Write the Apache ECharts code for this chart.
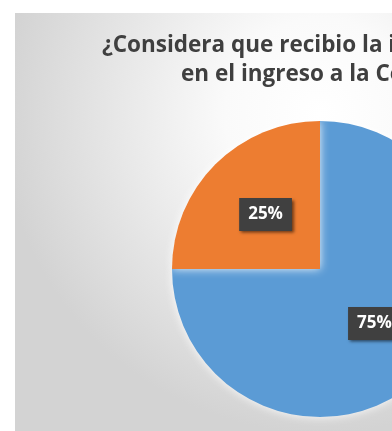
<!DOCTYPE html>
<html>
<head>
<meta charset="utf-8">
<script src="https://cdn.jsdelivr.net/npm/echarts@6/dist/echarts.min.js"></script>
<style>
  html, body { margin: 0; padding: 0; width: 392px; height: 431px; overflow: hidden; background: #ffffff; }
  #chart { position: absolute; left: 15px; top: 13px; width: 610px; height: 420px; }
</style>
</head>
<body>
<div id="chart"></div>
<script>
// Survey answers and their shares (percent)
const categories = ['Sí', 'No'];
const shares = [75, 25];
const sliceColors = ['#5b9bd5', '#ed7d31'];
const titleLines = ['¿Considera que recibio la inducción adecuada', 'en el ingreso a la Compañía?'];

const titleFont = {
  fontFamily: 'Open Sans',
  fontWeight: 'bold',
  fontSize: 22.5,
  lineHeight: 27,
  color: '#3f3f3f'
};

const chart = echarts.init(document.getElementById('chart'), null, { renderer: 'canvas' });

chart.setOption({
  backgroundColor: {
    type: 'radial', x: 0.5, y: 0.24, r: 0.76,
    colorStops: [
      { offset: 0, color: '#ffffff' },
      { offset: 0.3, color: '#fafafa' },
      { offset: 1, color: '#d3d3d3' }
    ]
  },
  animation: false,
  // the two title lines, each placed on its own
  title: [
    { text: titleLines[0], left: 87, top: 19, padding: 0, textStyle: titleFont },
    { text: titleLines[1], left: 166, top: 48, padding: 0, textStyle: titleFont }
  ],
  series: [{
    type: 'pie',
    center: [305, 256],
    radius: 148,
    startAngle: 90,
    clockwise: true,
    data: categories.map((name, i) => ({
      name: name,
      value: shares[i],
      itemStyle: { color: sliceColors[i] }
    })),
    itemStyle: {
      shadowBlur: 10,
      shadowColor: 'rgba(255,255,255,0.9)'
    },
    label: {
      show: true,
      position: 'inside',
      formatter: '{d}%',
      color: '#ffffff',
      fontFamily: 'Open Sans',
      fontWeight: 'bold',
      fontSize: 17,
      lineHeight: 18,
      backgroundColor: '#404040',
      padding: [8, 9, 7, 9],
      shadowBlur: 3,
      shadowColor: 'rgba(0,0,0,0.55)',
      shadowOffsetX: 2,
      shadowOffsetY: 2
    },
    labelLine: { show: false },
    emphasis: { disabled: true }
  }]
});
</script>
</body>
</html>
